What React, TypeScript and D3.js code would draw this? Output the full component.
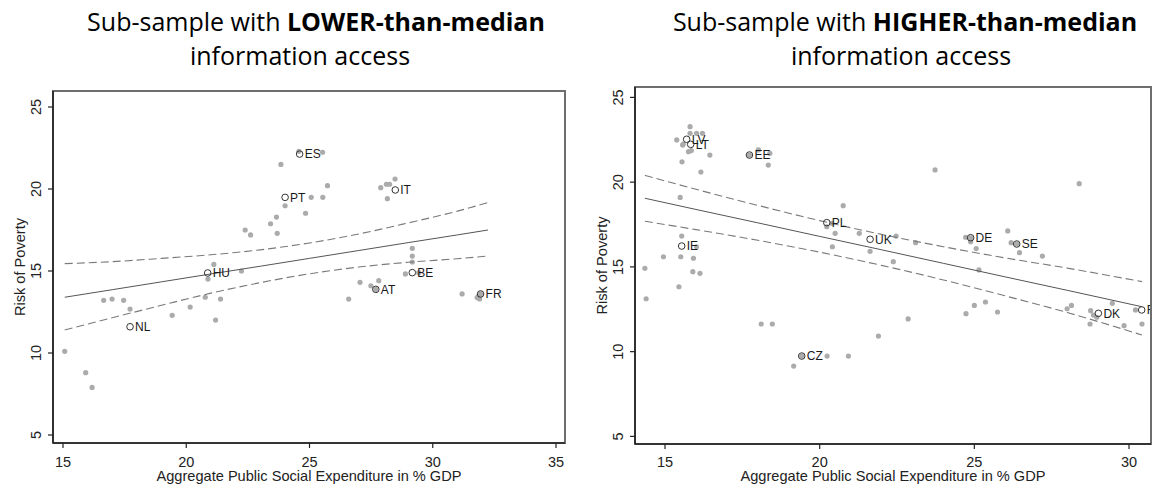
import React from 'react';
import * as d3 from 'd3';

// ---------- LEFT PANEL DATA (lower-than-median information access) ----------
const leftDotX = [23.84, 24.57, 25.53, 25.73, 25.07, 25.54, 24.01, 24.84, 23.66, 23.42, 23.69, 22.39, 22.61, 21.12, 20.88, 22.24, 20.77, 21.39, 21.19, 20.16, 19.43, 17.72, 17.46, 16.99, 16.65, 15.07, 15.92, 16.18, 27.89, 28.12, 28.25, 28.47, 28.16, 29.17, 29.17, 29.17, 28.89, 29.43, 27.49, 27.81, 27.05, 26.59, 31.19, 31.85, 31.9, 31.8, 27.69, 31.94];
const leftDotY = [21.5, 22.3, 22.24, 20.2, 19.49, 19.49, 18.98, 18.52, 18.29, 17.88, 17.3, 17.5, 17.2, 15.4, 14.51, 15.0, 13.4, 13.29, 12.01, 12.8, 12.3, 12.68, 13.21, 13.29, 13.21, 10.1, 8.8, 7.9, 20.08, 20.29, 20.29, 20.61, 19.41, 16.38, 15.91, 15.55, 14.82, 14.9, 14.1, 14.41, 14.31, 13.29, 13.6, 13.45, 13.3, 13.38, 13.88, 13.6];
const leftLabelCodes = ['ES', 'PT', 'IT', 'HU', 'BE', 'AT', 'FR', 'NL'];
const leftLabelX = [24.6, 24.01, 28.48, 20.87, 29.17, 27.69, 31.94, 17.72];
const leftLabelY = [22.13, 19.49, 19.94, 14.88, 14.9, 13.88, 13.6, 11.6];
const leftBandX = [15.07, 17, 19, 21, 23, 25, 27, 29, 31, 32.24];
const leftFit = [13.4, 13.86, 14.34, 14.82, 15.29, 15.77, 16.25, 16.73, 17.2, 17.5];
const leftUpper = [15.45, 15.57, 15.77, 15.99, 16.29, 16.71, 17.26, 17.93, 18.65, 19.17];
const leftLower = [11.4, 12.15, 12.91, 13.65, 14.29, 14.83, 15.24, 15.53, 15.75, 15.91];
const leftXTicks = [15, 20, 25, 30, 35];

// ---------- RIGHT PANEL DATA (higher-than-median information access) ----------
const rightDotX = [15.81, 15.81, 16.02, 16.21, 15.38, 15.57, 15.76, 15.85, 15.59, 16.45, 15.55, 16.16, 15.49, 18.02, 18.39, 18.34, 17.73, 20.76, 20.23, 20.39, 20.5, 20.41, 21.28, 21.63, 15.54, 16.02, 14.95, 15.51, 15.92, 14.35, 15.9, 16.13, 14.39, 15.45, 18.11, 18.47, 19.42, 20.24, 20.93, 19.16, 21.9, 22.86, 24.73, 25.0, 25.36, 25.75, 25.15, 28.0, 28.14, 28.74, 28.76, 28.85, 28.96, 29.46, 29.84, 30.21, 30.42, 23.73, 28.39, 22.47, 23.1, 22.38, 24.72, 24.88, 25.06, 26.08, 26.19, 26.46, 27.2, 24.88, 26.37];
const rightDotY = [23.27, 22.88, 22.88, 22.88, 22.49, 22.19, 21.8, 21.86, 22.25, 21.6, 21.2, 20.6, 19.1, 21.9, 21.7, 21.01, 21.6, 18.61, 17.37, 17.57, 16.98, 16.19, 16.98, 15.92, 16.82, 16.19, 15.6, 15.6, 15.51, 14.92, 14.72, 14.62, 13.12, 13.83, 11.63, 11.63, 9.74, 9.74, 9.74, 9.15, 10.92, 11.93, 12.24, 12.73, 12.93, 12.34, 14.82, 12.53, 12.73, 11.63, 12.42, 12.16, 12.03, 12.85, 11.53, 12.46, 11.63, 20.72, 19.91, 16.82, 16.43, 15.31, 16.75, 16.49, 16.08, 17.12, 16.43, 15.84, 15.64, 16.72, 16.35];
const rightLabelCodes = ['LV', 'LT', 'EE', 'PL', 'UK', 'IE', 'DE', 'SE', 'CZ', 'DK', 'FI'];
const rightLabelX = [15.7, 15.83, 17.73, 20.23, 21.63, 15.54, 24.88, 26.37, 19.42, 29.01, 30.41];
const rightLabelY = [22.53, 22.23, 21.6, 17.61, 16.63, 16.23, 16.72, 16.35, 9.74, 12.26, 12.46];
const rightBandX = [14.35, 16, 18, 20, 22, 24, 26, 28, 30.42];
const rightFit = [19.05, 18.39, 17.6, 16.8, 16.01, 15.21, 14.41, 13.62, 12.65];
const rightUpper = [20.4, 19.58, 18.63, 17.73, 16.92, 16.19, 15.53, 14.93, 14.13];
const rightLower = [17.69, 17.2, 16.57, 15.87, 15.09, 14.23, 13.29, 12.31, 10.98];
const rightXTicks = [15, 20, 25, 30];

const yTicks = [5, 10, 15, 20, 25];

const FONT = '"Liberation Sans", Arial, sans-serif';
const TITLE_FONT = '"Open Sans", Lato, sans-serif';

type PanelProps = {
  id: string;
  dotX: number[]; dotY: number[];
  labCodes: string[]; labX: number[]; labY: number[];
  bandX: number[]; fit: number[]; upper: number[]; lower: number[];
  xTicks: number[];
  xDom: [number, number]; xRange: [number, number];
  yDom: [number, number]; yRange: [number, number];
  box: { l: number; r: number; t: number; b: number };
  bold: string;
  t1x: number; t2x: number;
};

function Panel(p: PanelProps) {
  const x = d3.scaleLinear().domain(p.xDom).range(p.xRange);
  const y = d3.scaleLinear().domain(p.yDom).range(p.yRange);
  const line = (ys: number[]) =>
    d3.line<number>().x((d, i) => x(p.bandX[i])).y((d) => y(d)).curve(d3.curveMonotoneX)(ys) || '';
  const { l, r, t, b } = p.box;
  const cx = (l + r) / 2;
  const cy = (t + b) / 2;
  return (
    <g>
      <defs>
        <clipPath id={p.id}>
          <rect x={l} y={t} width={r - l - 1} height={b - t} />
        </clipPath>
      </defs>
      {/* titles */}
      <text x={p.t1x} y={31} textAnchor="middle" fontFamily={TITLE_FONT} fontSize={25} fill="#000">
        <tspan>Sub-sample with </tspan>
        <tspan fontWeight="bold">{p.bold}</tspan>
      </text>
      <text x={p.t2x} y={65} textAnchor="middle" fontFamily={TITLE_FONT} fontSize={25} fill="#000">
        information access
      </text>
      {/* frame */}
      <rect x={l} y={t} width={r - l} height={b - t} fill="#fff" stroke="#6e6e6e" strokeWidth={2} />
      <g clipPath={`url(#${p.id})`}>
        {p.dotX.map((d, i) => (
          <circle key={'d' + i} cx={x(d)} cy={y(p.dotY[i])} r={2.6} fill="#ababab" />
        ))}
        <path d={line(p.upper)} fill="none" stroke="#7a7a7a" strokeWidth={1.1} strokeDasharray="8,4" />
        <path d={line(p.lower)} fill="none" stroke="#7a7a7a" strokeWidth={1.1} strokeDasharray="8,4" />
        <path d={line(p.fit)} fill="none" stroke="#555" strokeWidth={1} />
        {p.labCodes.map((c, i) => (
          <g key={'l' + i}>
            <circle cx={x(p.labX[i])} cy={y(p.labY[i])} r={3.3} fill="none" stroke="#333" strokeWidth={1} />
            <text x={x(p.labX[i]) + 5} y={y(p.labY[i]) + 4.3} fontFamily={FONT} fontSize={12} fill="#1a1a1a">
              {c}
            </text>
          </g>
        ))}
      </g>
      {/* axes */}
      <line x1={l} x2={l} y1={t} y2={b} stroke="#222" strokeWidth={1.6} />
      <line x1={l} x2={r} y1={b} y2={b} stroke="#222" strokeWidth={1.6} />
      {yTicks.map((v) => (
        <g key={'yt' + v}>
          <line x1={l - 5} x2={l} y1={y(v)} y2={y(v)} stroke="#222" strokeWidth={1.2} />
          <text transform={`translate(${l - 12},${y(v)}) rotate(-90)`} textAnchor="middle" fontFamily={FONT} fontSize={14.5} fill="#222">
            {v}
          </text>
        </g>
      ))}
      {p.xTicks.map((v) => (
        <g key={'xt' + v}>
          <line x1={x(v)} x2={x(v)} y1={b} y2={b + 5} stroke="#222" strokeWidth={1.2} />
          <text x={x(v)} y={466.5} textAnchor="middle" fontFamily={FONT} fontSize={14.5} fill="#222">
            {v}
          </text>
        </g>
      ))}
      <text x={cx} y={481} textAnchor="middle" fontFamily={FONT} fontSize={14.6} fill="#222">
        Aggregate Public Social Expenditure in % GDP
      </text>
      <text transform={`translate(${l - 28},${cy}) rotate(-90)`} textAnchor="middle" fontFamily={FONT} fontSize={14.6} fill="#222">
        Risk of Poverty
      </text>
    </g>
  );
}

export default function App() {
  return (
    <svg width={1152} height={495} style={{ position: 'absolute', left: 0, top: 0, background: '#fff' }}>
      <rect x={0} y={0} width={1152} height={495} fill="#fff" />
      <Panel
        id="clipL"
        dotX={leftDotX} dotY={leftDotY}
        labCodes={leftLabelCodes} labX={leftLabelX} labY={leftLabelY}
        bandX={leftBandX} fit={leftFit} upper={leftUpper} lower={leftLower}
        xTicks={leftXTicks}
        xDom={[15, 35]} xRange={[63, 556]}
        yDom={[5, 25]} yRange={[435, 107]}
        box={{ l: 53, r: 565, t: 91, b: 443 }}
        bold="LOWER-than-median"
        t1x={316} t2x={300}
      />
      <Panel
        id="clipR"
        dotX={rightDotX} dotY={rightDotY}
        labCodes={rightLabelCodes} labX={rightLabelX} labY={rightLabelY}
        bandX={rightBandX} fit={rightFit} upper={rightUpper} lower={rightLower}
        xTicks={rightXTicks}
        xDom={[15, 30]} xRange={[665, 1129]}
        yDom={[5, 25]} yRange={[436.4, 97.4]}
        box={{ l: 635, r: 1151, t: 87, b: 444 }}
        bold="HIGHER-than-median"
        t1x={905} t2x={901}
      />
    </svg>
  );
}
